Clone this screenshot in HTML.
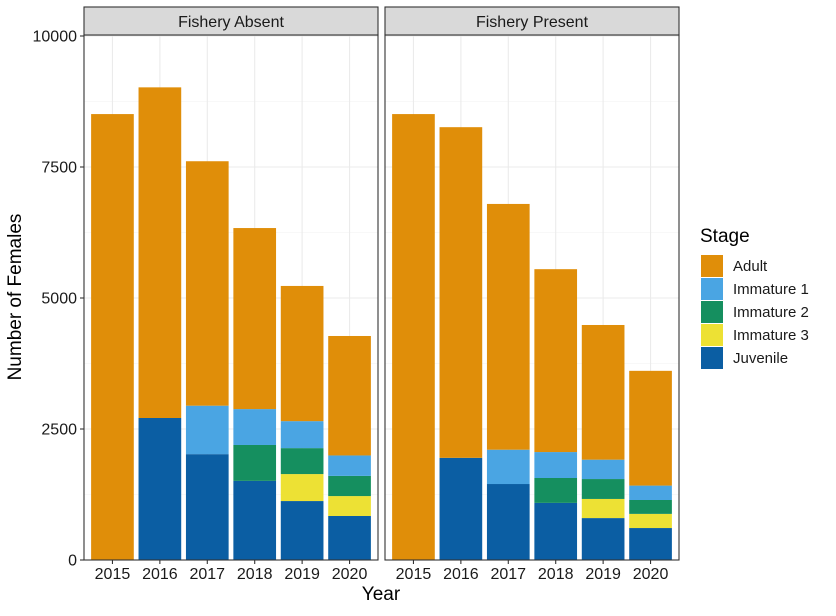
<!DOCTYPE html>
<html><head><meta charset="utf-8"><style>
body{margin:0;background:#fff;font-family:"Liberation Sans",Arial,sans-serif}
</style></head><body>
<svg id="c" width="836" height="611" xmlns="http://www.w3.org/2000/svg" font-family="Liberation Sans, Arial, sans-serif"></svg>
<script>
const years=["2015","2016","2017","2018","2019","2020"];
const stages=["Juvenile","Immature 3","Immature 2","Immature 1","Adult"];
const colors={"Adult":"#E08E09","Immature 1":"#4AA5E3","Immature 2":"#158F5F","Immature 3":"#EDE134","Juvenile":"#0B5EA3"};
const panels=["Fishery Absent","Fishery Present"];
const absentJuvenile=[0,2710,2020,1510,1125,840];
const absentImm3=[0,0,0,0,515,380];
const absentImm2=[0,0,0,685,495,385];
const absentImm1=[0,0,925,685,515,390];
const absentAdult=[8510,6310,4665,3455,2580,2280];
const presentJuvenile=[0,1950,1450,1090,800,610];
const presentImm3=[0,0,0,0,365,270];
const presentImm2=[0,0,0,475,380,265];
const presentImm1=[0,0,655,495,370,275];
const presentAdult=[8510,6310,4690,3490,2570,2190];
const yTicks=[0,2500,5000,7500,10000];
const data=[[absentJuvenile,absentImm3,absentImm2,absentImm1,absentAdult],[presentJuvenile,presentImm3,presentImm2,presentImm1,presentAdult]];
const svg=document.getElementById('c');const NS="http://www.w3.org/2000/svg";
function mk(t,a,p){const e=document.createElementNS(NS,t);for(const k in a)e.setAttribute(k,a[k]);(p||svg).appendChild(e);return e;}
const y0=560,plotTop=35;
function yS(v){return y0-v*0.0524;}
const px=[84,385],pw=294;
function xS(p,i){return px[p]+(i+1-0.4)*pw/6.2;}
panels.forEach((name,p)=>{
  const g=mk('g',{});
  
  
  for(let v=1250;v<10000;v+=2500){mk('line',{x1:px[p],x2:px[p]+pw,y1:yS(v),y2:yS(v),stroke:'#f2f2f2','stroke-width':0.6},g);}
  yTicks.forEach(v=>{mk('line',{x1:px[p],x2:px[p]+pw,y1:yS(v),y2:yS(v),stroke:'#ebebeb','stroke-width':1.1},g);});
  years.forEach((yr,i)=>{mk('line',{x1:xS(p,i),x2:xS(p,i),y1:plotTop,y2:y0,stroke:'#ebebeb','stroke-width':1.1},g);});
  const bw=0.9*pw/6.2;
  years.forEach((yr,i)=>{
    let cum=0;
    stages.forEach((s,k)=>{
      const v=data[p][k][i];if(v<=0)return;
      const r=mk('rect',{x:xS(p,i)-bw/2,y:yS(cum+v),width:bw,height:yS(cum)-yS(cum+v),fill:colors[s]},g);
      
      
      cum+=v;
    });
    mk('line',{x1:xS(p,i),x2:xS(p,i),y1:y0,y2:y0+4,stroke:'#333','stroke-width':1.1},g);
    const t=mk('text',{x:xS(p,i),y:579,'text-anchor':'middle','font-size':16,fill:'#1a1a1a'},g);t.textContent=yr;
    
    
  });
  mk('rect',{x:px[p],y:plotTop,width:pw,height:y0-plotTop,fill:'none',stroke:'#333','stroke-width':1.1},g);
  const st=mk('rect',{x:px[p],y:7,width:pw,height:28,fill:'#d9d9d9',stroke:'#333','stroke-width':1.1},g);
  
  
  const tt=mk('text',{x:px[p]+pw/2,y:27,'text-anchor':'middle','font-size':16,fill:'#1a1a1a'},g);tt.textContent=name;
  
  
});
yTicks.forEach(v=>{
  mk('line',{x1:80,x2:84,y1:yS(v),y2:yS(v),stroke:'#333','stroke-width':1.1});
  const t=mk('text',{x:77,y:yS(v)+5.5,'text-anchor':'end','font-size':16,fill:'#1a1a1a'});t.textContent=v;
  
  
});
const xt=mk('text',{x:381,y:600,'text-anchor':'middle','font-size':19,fill:'#000'});xt.textContent='Year';


const yt=mk('text',{x:0,y:0,'text-anchor':'middle','font-size':19,fill:'#000',transform:'translate(21,297) rotate(-90)'});yt.textContent='Number of Females';


const lg=mk('g',{});


const lt=mk('text',{x:700,y:242,'font-size':19,fill:'#000'},lg);lt.textContent='Stage';
["Adult","Immature 1","Immature 2","Immature 3","Juvenile"].forEach((s,i)=>{
  const e=mk('g',{},lg);
  
  
  mk('rect',{x:701,y:255+i*23,width:22,height:22,fill:colors[s]},e);
  const t=mk('text',{x:733,y:271+i*23,'font-size':15,fill:'#1a1a1a'},e);t.textContent=s;
});
</script>
</body></html>
